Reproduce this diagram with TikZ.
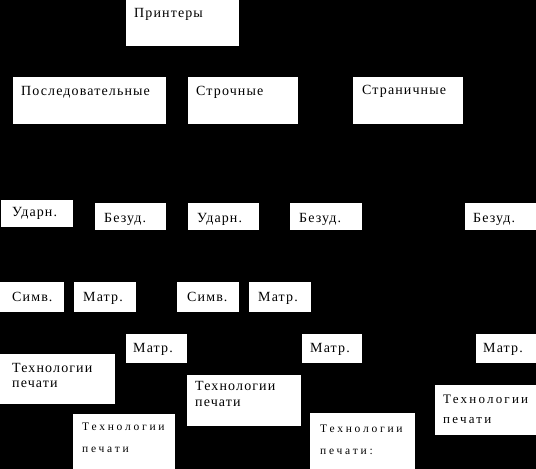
\documentclass[tikz,border=0pt]{standalone}
\usepackage{fontspec}
\setmainfont{Liberation Serif}[LetterSpace=8]
\newfontfamily\midfont{Liberation Serif}[LetterSpace=17]
\newfontfamily\widefont{Liberation Serif}[LetterSpace=24]

\begin{document}
\begin{tikzpicture}[x=1pt, y=-1pt,
    card/.style={fill=white, anchor=north west, inner sep=0pt},
    tag/.style={anchor=base west, inner sep=0pt, align=left,
                font=\fontsize{14}{15}\selectfont},
    midtag/.style={tag, font=\midfont\fontsize{13}{20}\selectfont},
    smalltag/.style={tag, font=\widefont\fontsize{11.5}{22}\selectfont}]

\useasboundingbox (0, 0) rectangle (536, 469);
\fill[black] (0, 0) rectangle (536, 469);

% draw the top level
\node[card, minimum width=113, minimum height=46] (prn) at (126, 0) {};
\node[tag] (prnT) at ([shift={(8, 17)}]prn.north west) {Принтеры};

\node[card, minimum width=153, minimum height=47] (seq) at (13, 77) {};
\node[card, minimum width=110, minimum height=47] (row) at (188, 77) {};
\node[card, minimum width=110, minimum height=47] (page) at (353, 77) {};
\node[tag] (seqT) at ([shift={(8, 18)}]seq.north west) {Последовательные};
\node[tag] (rowT) at ([shift={(8, 18)}]row.north west) {Строчные};
\node[tag] (pageT) at ([shift={(9, 17)}]page.north west) {Страничные};

% draw the impact / non-impact boxes
\node[card, minimum width=72, minimum height=27] (imp1) at (1, 200) {};
\node[card, minimum width=71, minimum height=27] (non1) at (95, 203) {};
\node[card, minimum width=71, minimum height=27] (imp2) at (188, 203) {};
\node[card, minimum width=72, minimum height=27] (non2) at (290, 203) {};
\node[card, minimum width=71, minimum height=27] (non3) at (465, 203) {};
\node[tag] (imp1T) at ([shift={(11, 16)}]imp1.north west) {Ударн.};
\node[tag] (non1T) at ([shift={(9, 19)}]non1.north west) {Безуд.};
\node[tag] (imp2T) at ([shift={(9, 19)}]imp2.north west) {Ударн.};
\node[tag] (non2T) at ([shift={(9, 19)}]non2.north west) {Безуд.};
\node[tag] (non3T) at ([shift={(8, 19)}]non3.north west) {Безуд.};

% draw the symbol / matrix boxes
\node[card, minimum width=64, minimum height=30] (sym1) at (0, 282) {};
\node[card, minimum width=62, minimum height=30] (mat1) at (74, 282) {};
\node[card, minimum width=62, minimum height=30] (sym2) at (177, 282) {};
\node[card, minimum width=62, minimum height=30] (mat2) at (249, 282) {};
\node[tag] (sym1T) at ([shift={(12, 19)}]sym1.north west) {Симв.};
\node[tag] (mat1T) at ([shift={(9, 19)}]mat1.north west) {Матр.};
\node[tag] (sym2T) at ([shift={(10, 19)}]sym2.north west) {Симв.};
\node[tag] (mat2T) at ([shift={(9, 19)}]mat2.north west) {Матр.};

\node[card, minimum width=61, minimum height=29] (mat3) at (126, 334) {};
\node[card, minimum width=60, minimum height=29] (mat4) at (302, 334) {};
\node[card, minimum width=60, minimum height=29] (mat5) at (476, 334) {};
\node[tag] (mat3T) at ([shift={(7, 18)}]mat3.north west) {Матр.};
\node[tag] (mat4T) at ([shift={(8, 18)}]mat4.north west) {Матр.};
\node[tag] (mat5T) at ([shift={(7, 18)}]mat5.north west) {Матр.};

% draw the technology boxes (text anchored on its last line)
\node[card, minimum width=115, minimum height=50] (tech1) at (0, 354) {};
\node[card, minimum width=114, minimum height=51] (tech2) at (187, 375) {};
\node[card, minimum width=101, minimum height=50] (tech3) at (435, 385) {};
\node[card, minimum width=102, minimum height=55] (tech4) at (73, 414) {};
\node[card, minimum width=105, minimum height=56] (tech5) at (310, 413) {};
\node[tag] (tech1T) at ([shift={(12, 33)}]tech1.north west) {Технологии\\печати};
\node[tag, font=\fontsize{14}{16}\selectfont] (tech2T)
    at ([shift={(8, 31)}]tech2.north west) {Технологии\\печати};
\node[midtag] (tech3T) at ([shift={(8, 38)}]tech3.north west) {Технологии\\печати};
\node[smalltag] (tech4T) at ([shift={(9, 38)}]tech4.north west) {Технологии\\печати};
\node[smalltag] (tech5T) at ([shift={(10, 41)}]tech5.north west) {Технологии\\печати:};

\end{tikzpicture}
\end{document}
